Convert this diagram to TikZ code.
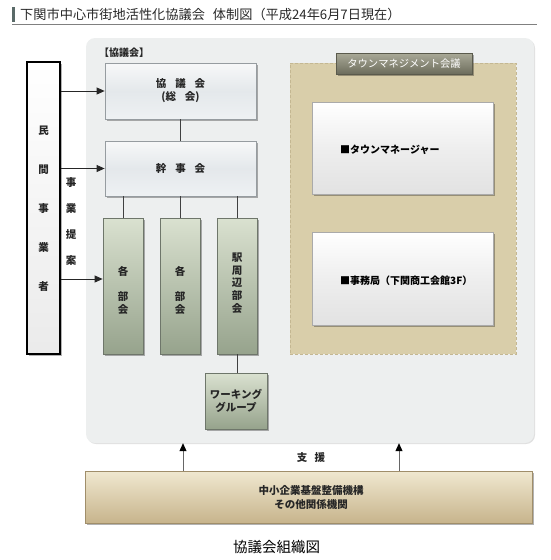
\documentclass[tikz,border=0pt]{standalone}
\usepackage{fontspec}
\setmainfont{Noto Sans CJK JP}
\usetikzlibrary{arrows.meta,shadows}
\definecolor{panelfill}{RGB}{237,239,239}
\definecolor{tanfill}{RGB}{217,206,170}
\definecolor{tanedge}{RGB}{196,183,146}
\definecolor{bluetop}{RGB}{247,248,249}
\definecolor{bluemid}{RGB}{228,232,235}
\definecolor{bluebot}{RGB}{238,241,243}
\definecolor{boxedge}{RGB}{150,156,160}
\definecolor{greentop}{RGB}{218,225,208}
\definecolor{greenbot}{RGB}{150,163,140}
\definecolor{greenedge}{RGB}{110,118,106}
\definecolor{tabtop}{RGB}{170,170,152}
\definecolor{tabbot}{RGB}{108,108,92}
\definecolor{tabedge}{RGB}{90,90,76}
\definecolor{wtmid}{RGB}{238,238,238}
\definecolor{wtbot}{RGB}{226,226,226}
\definecolor{wtedge}{RGB}{170,170,170}
\definecolor{bottop}{RGB}{240,232,208}
\definecolor{botbot}{RGB}{199,180,140}
\definecolor{botedge}{RGB}{160,142,106}
\definecolor{titlebar}{RGB}{90,106,104}
\definecolor{titletext}{RGB}{40,40,40}
\tikzset{
  shade/.style={drop shadow={shadow xshift=1.5pt,shadow yshift=-1.5pt,opacity=.3,fill=black}},
  bluebox/.style={draw=boxedge,line width=0.8pt,top color=bluetop,bottom color=bluebot,middle color=bluemid,shade,
    minimum width=151pt,inner sep=0pt,align=center,text=black!85,font=\bfseries\fontsize{10.5}{13}\selectfont},
  greenbox/.style={draw=greenedge,line width=0.8pt,top color=greentop,bottom color=greenbot,shade,
    inner sep=0pt,align=center,text=black!85},
  whitebox/.style={draw=wtedge,line width=0.6pt,top color=white,bottom color=wtbot,middle color=wtmid,shade,
    minimum width=181pt,inner sep=0pt},
  plain/.style={inner sep=0pt,text=black!85},
  conn/.style={draw=black!75,line width=0.8pt},
  arr/.style={draw=black!85,line width=0.8pt,-{Triangle[length=8pt,width=7pt]}},
  suparr/.style={draw=black!60,line width=0.9pt,-{Triangle[length=8pt,width=7pt,color=black]}},
}
\begin{document}
\begin{tikzpicture}[x=1pt,y=-1pt]
\useasboundingbox (0,0) rectangle (550,560);
% title
\node[fill=titlebar,minimum width=3pt,minimum height=15pt,inner sep=0pt] (bar) at (13,14) {};
\node[anchor=west,inner sep=0pt,text=titletext,font=\fontsize{13.2}{15}\selectfont] (title) at (20,14.5)
  {下関市中心市街地活性化協議会\hspace{0.6em}体制図（平成24年6月7日現在）};
\draw[black!50,line width=0.8pt] (12,24.5) -- (537,24.5);
% main panel
\node[fill=panelfill,rounded corners=9pt,minimum width=448pt,minimum height=405pt,inner sep=0pt,
  drop shadow={shadow xshift=1pt,shadow yshift=-1pt,opacity=.12,fill=black}] (panel) at (310,240.5) {};
\node[anchor=west,plain,font=\bfseries\fontsize{10}{12}\selectfont] (kyolabel) at (99,53) {【協議会】};
% town management
\node[fill=tanfill,draw=tanedge,densely dashed,line width=0.5pt,minimum width=226pt,minimum height=291pt,inner sep=0pt] (tan) at (403,208.5) {};
\node[draw=tabedge,line width=0.6pt,top color=tabtop,bottom color=tabbot,shade,minimum width=136pt,minimum height=21pt,inner sep=0pt,
  text=white,font=\fontsize{10.3}{12}\selectfont] (tab) at (404,63.5) {タウンマネジメント会議};
\node[whitebox,minimum height=92pt] (tm) at (402.5,148) {};
\node[whitebox,minimum height=93pt] (jimu) at (402.5,278.5) {};
\node[anchor=west,plain,text=black,font=\bfseries\fontsize{10}{12}\selectfont] (tmtext) at (340,150) {■タウンマネージャー};
\node[anchor=west,plain,text=black,font=\bfseries\fontsize{10}{12}\selectfont] (jimutext) at (340,281) {■事務局（下関商工会館3F）};
% council boxes
\node[bluebox,minimum height=56pt] (kyo) at (180.5,91) {協\hspace{0.85em}議\hspace{0.85em}会\\(総\hspace{0.85em}会)};
\node[bluebox,minimum height=55pt] (kan) at (180.5,168.5) {幹\hspace{0.85em}事\hspace{0.85em}会};
\node[greenbox,minimum width=40pt,minimum height=136pt] (bu1) at (123,286) {};
\node[greenbox,minimum width=40pt,minimum height=136pt] (bu2) at (180,286) {};
\node[greenbox,minimum width=40pt,minimum height=136pt] (bu3) at (237,286) {};
\node[plain,align=center,font=\bfseries\fontsize{10.5}{12.7}\selectfont] (bu1t) at (123,290) {各\\\mbox{}\\部\\会};
\node[plain,align=center,font=\bfseries\fontsize{10.5}{12.7}\selectfont] (bu2t) at (180,290) {各\\\mbox{}\\部\\会};
\node[plain,align=center,font=\bfseries\fontsize{10.5}{12.8}\selectfont] (bu3t) at (237,283) {駅\\周\\辺\\部\\会};
\node[greenbox,minimum width=62pt,minimum height=56pt,font=\bfseries\fontsize{10.5}{13}\selectfont] (wg) at (236,401) {ワーキング\\グループ};
% private sector box
\node[draw=black,line width=1.8pt,top color=white,bottom color=black!8,middle color=black!4,shade,
  minimum width=33pt,minimum height=292pt,inner sep=0pt] (min) at (43.5,208) {};
\node[plain,align=center,font=\bfseries\fontsize{10.5}{39}\selectfont] (mint) at (43.5,209) {民\\間\\事\\業\\者};
\node[plain,align=center,font=\bfseries\fontsize{10.5}{25.7}\selectfont] (teian) at (71,221.5) {事\\業\\提\\案};
% connectors
\coordinate (a3) at ([yshift=7pt]bu1.west);
\draw[conn] (kyo.south) -- (kan.north);
\draw[conn] ([xshift=0.5pt]bu1.north) -- ([xshift=0.5pt]bu1.north |- kan.south);
\draw[conn] (bu2.north) -- (bu2.north |- kan.south);
\draw[conn] (bu3.north) -- (bu3.north |- kan.south);
\draw[conn] (bu3.south) -- (bu3.south |- wg.north);
\draw[arr] (min.east |- kyo.west) -- (kyo.west);
\draw[arr] (min.east |- kan.west) -- (kan.west);
\draw[arr] (min.east |- a3) -- (a3);
% bottom support
\node[draw=botedge,line width=0.8pt,top color=bottop,bottom color=botbot,shade,minimum width=447pt,minimum height=52pt,
  inner sep=0pt,align=center,text=black!85,font=\bfseries\fontsize{10.5}{14}\selectfont] (bot) at (308.5,497)
  {\hspace{5pt}中小企業基盤整備機構\\\hspace{5pt}その他関係機関};
\coordinate (s1) at ([xshift=-125.5pt]bot.north);
\coordinate (s2) at ([xshift=90.5pt]bot.north);
\draw[suparr] (s1) -- (s1 |- panel.south);
\draw[suparr] (s2) -- (s2 |- panel.south);
\node[plain,font=\bfseries\fontsize{10.5}{12}\selectfont] (shien) at (311,458) {支\hspace{0.7em}援};
% caption
\node[inner sep=0pt,text=black,font=\fontsize{14.5}{16}\selectfont] (caption) at (276.5,547) {協議会組織図};
\end{tikzpicture}
\end{document}
